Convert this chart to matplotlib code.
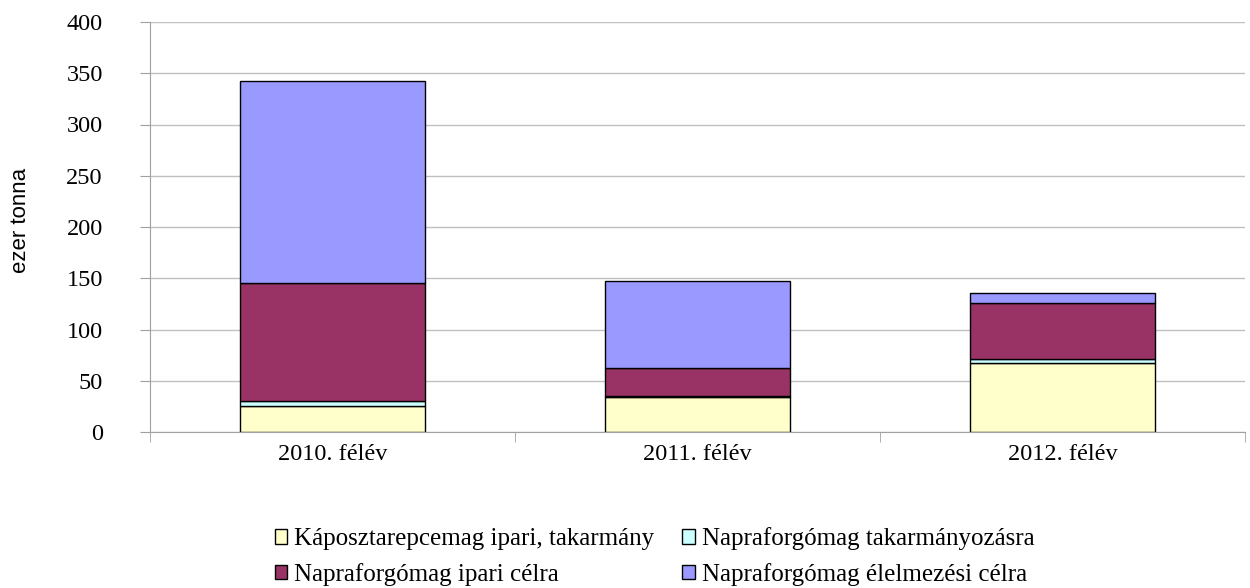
import numpy as np
import matplotlib.pyplot as plt

categories = ['2010. félév', '2011. félév', '2012. félév']
kaposztarepce = [25.5, 34.0, 67.0]
napra_takarmany = [5.0, 1.5, 4.0]
napra_ipari = [115.0, 26.5, 54.5]
napra_elelmezes = [197.0, 85.5, 10.0]

series = [
    (kaposztarepce, 'Káposztarepcemag ipari, takarmány', '#FFFFCC'),
    (napra_takarmany, 'Napraforgómag takarmányozásra', '#CCFFFF'),
    (napra_ipari, 'Napraforgómag ipari célra', '#993366'),
    (napra_elelmezes, 'Napraforgómag élelmezési célra', '#9999FF'),
]

plt.rcParams['font.family'] = ['Liberation Serif', 'DejaVu Serif']

fig = plt.figure(figsize=(12.5, 5.88), dpi=100)
ax = fig.add_axes([150 / 1250, 1 - 432 / 588, 1095 / 1250, 410 / 588])

x = np.arange(len(categories))
bottom = np.zeros(len(categories))
handles = []
for vals, label, col in series:
    h = ax.bar(x, vals, width=0.507, bottom=bottom, color=col,
               edgecolor='black', linewidth=1.0, label=label, zorder=3)
    handles.append(h)
    bottom += np.array(vals)

ax.set_xlim(-0.5, 2.5)
ax.set_ylim(0, 400)
ax.set_yticks(np.arange(0, 401, 50))
ax.yaxis.grid(True, color='#C0C0C0', linewidth=1.0, zorder=0)

ax.set_xticks(x)
ax.set_xticklabels(categories, fontsize=17.5)
ax.set_xticks([-0.5, 0.5, 1.5, 2.5], minor=True)
ax.tick_params(axis='x', which='major', length=0, pad=9)
ax.tick_params(axis='x', which='minor', length=7, color='#A0A0A0', direction='out')
ax.tick_params(axis='y', labelsize=17.5, length=7, color='#A0A0A0', pad=27)

for s in ['top', 'right']:
    ax.spines[s].set_visible(False)
ax.spines['left'].set_color('#A0A0A0')
ax.spines['bottom'].set_color('#A0A0A0')

ax.set_ylabel('ezer tonna', fontsize=16, family=['Liberation Sans', 'DejaVu Sans'])
ax.yaxis.set_label_coords(-0.109, 0.515)

# row-wise order in a 2-column legend
order = [0, 2, 1, 3]
fig.legend(handles=[handles[i] for i in order], loc='upper left',
           bbox_to_anchor=(262 / 1250, 1 - 515 / 588),
           ncol=2, frameon=False, fontsize=18, handlelength=0.5, handleheight=0.5,
           handletextpad=0.3, columnspacing=1.1, labelspacing=0.5, borderpad=0)

fig.savefig('out.png', dpi=100)
